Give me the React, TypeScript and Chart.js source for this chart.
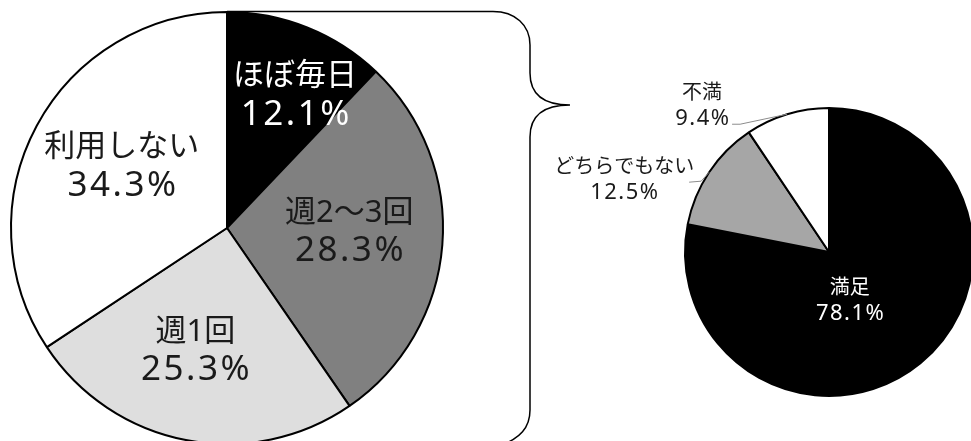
import React, { useEffect, useRef } from "react";
import { Chart, registerables } from "chart.js";

Chart.register(...registerables);

// ---- data ----
const usageLabels = ["ほぼ毎日", "週2～3回", "週1回", "利用しない"];
const usageValues = [12.1, 28.3, 25.3, 34.3];
const satisfactionLabels = ["満足", "どちらでもない", "不満"];
const satisfactionValues = [78.1, 12.5, 9.4];

// ---- styles ----
const usageColors = ["#000000", "#808080", "#dedede", "#ffffff"];
const usageTextColors = ["#ffffff", "#1a1a1a", "#1a1a1a", "#1a1a1a"];
const satColors = ["#000000", "#a6a6a6", "#ffffff"];
const satTextColors = ["#ffffff", "#1a1a1a", "#1a1a1a"];

const FONT = "'Noto Sans', 'Noto Sans CJK JP', sans-serif";
const CW = 1000;
const CH = 460;

type LabelStyle = {
  inside: boolean;
  frac?: number;
  nudge: [number, number];
  leader?: [number, number][];
};

const usageLabelStyles: LabelStyle[] = [
  { inside: true, frac: 0.6, nudge: [20, -12] },
  { inside: true, frac: 0.6, nudge: [-7, -6] },
  { inside: true, frac: 0.6, nudge: [-7, -4] },
  { inside: true, frac: 0.6, nudge: [9, 0] },
];
const satLabelStyles: LabelStyle[] = [
  { inside: true, frac: 0.6, nudge: [-34, -18] },
  { inside: false, nudge: [-85, 8], leader: [[-8, 9], [-20, 10]] },
  { inside: false, nudge: [-85, -8], leader: [[-47, 10], [-55, 10]] },
];

function makeLabelPlugin(
  id: string,
  labels: string[],
  styles: LabelStyle[],
  textColors: string[],
  nameSize: number,
  pctSize: number,
  pctSpacing: number,
  lineGap: number,
  brace: boolean
) {
  return {
    id,
    afterDatasetsDraw(chart: any) {
      const ctx: any = chart.ctx;
      const meta = chart.getDatasetMeta(0);
      const data = chart.data.datasets[0].data as number[];
      ctx.save();
      meta.data.forEach((el: any, i: number) => {
        const p = el.getProps(["x", "y", "startAngle", "endAngle", "outerRadius"], true);
        const mid = (p.startAngle + p.endAngle) / 2;
        const st = styles[i];
        let cx: number, cy: number;
        if (st.inside) {
          const r = p.outerRadius * (st.frac ?? 0.6);
          cx = p.x + Math.cos(mid) * r + st.nudge[0];
          cy = p.y + Math.sin(mid) * r + st.nudge[1];
        } else {
          const ex = p.x + Math.cos(mid) * p.outerRadius;
          const ey = p.y + Math.sin(mid) * p.outerRadius;
          cx = ex + st.nudge[0];
          cy = ey + st.nudge[1];
          if (st.leader) {
            ctx.strokeStyle = "#8c8c8c";
            ctx.lineWidth = 1;
            ctx.beginPath();
            ctx.moveTo(ex, ey);
            st.leader.forEach(([dx, dy]) => ctx.lineTo(ex + dx, ey + dy));
            ctx.stroke();
          }
        }
        ctx.fillStyle = textColors[i];
        ctx.textAlign = "center";
        ctx.textBaseline = "middle";
        ctx.letterSpacing = "0px";
        ctx.font = `${nameSize}px ${FONT}`;
        ctx.fillText(labels[i], cx, cy - lineGap / 2);
        ctx.font = `${pctSize}px ${FONT}`;
        ctx.letterSpacing = `${pctSpacing}px`;
        ctx.fillText(data[i].toFixed(1) + "%", cx + pctSpacing / 2, cy + lineGap / 2);
        ctx.letterSpacing = "0px";
      });
      if (brace && meta.data.length) {
        const p = meta.data[0].getProps(["x", "y", "outerRadius"], true);
        const topY = p.y - p.outerRadius - 0.5;
        ctx.strokeStyle = "#000";
        ctx.lineWidth = 1.5;
        ctx.beginPath();
        ctx.moveTo(p.x, topY);
        ctx.lineTo(493, topY);
        ctx.bezierCurveTo(515, topY, 530, 25, 530, 45);
        ctx.lineTo(530, 73);
        ctx.bezierCurveTo(530, 95, 545, 105, 570, 105);
        ctx.moveTo(570, 105);
        ctx.bezierCurveTo(545, 105, 530, 115, 530, 137);
        ctx.lineTo(530, 410);
        ctx.bezierCurveTo(530, 428, 520, 438, 500, 446);
        ctx.stroke();
      }
      ctx.restore();
    },
  };
}

function PieCanvas(props: {
  labels: string[];
  values: number[];
  colors: string[];
  padding: { left: number; top: number; right: number; bottom: number };
  plugin: any;
}) {
  const ref = useRef<HTMLCanvasElement | null>(null);
  useEffect(() => {
    if (!ref.current) return;
    const chart = new Chart(ref.current, {
      type: "pie",
      data: {
        labels: props.labels,
        datasets: [
          {
            data: props.values,
            backgroundColor: props.colors,
            borderColor: "#000000",
            borderWidth: 2,
          },
        ],
      },
      options: {
        responsive: false,
        animation: false,
        devicePixelRatio: 1,
        layout: { padding: props.padding },
        plugins: {
          legend: { display: false },
          tooltip: { enabled: false },
        },
        events: [],
      },
      plugins: [props.plugin],
    });
    return () => chart.destroy();
  }, []);
  return (
    <canvas
      ref={ref}
      width={CW}
      height={CH}
      style={{ position: "absolute", left: 0, top: 0, width: CW, height: CH }}
    />
  );
}

const leftPlugin = makeLabelPlugin("usageLabels", usageLabels, usageLabelStyles, usageTextColors, 31, 35, 2.5, 38, true);
const rightPlugin = makeLabelPlugin("satLabels", satisfactionLabels, satLabelStyles, satTextColors, 20, 22, 1.5, 25, false);

export default function App() {
  return (
    <div
      style={{
        position: "fixed",
        left: 0,
        top: 0,
        width: 971,
        height: 441,
        overflow: "hidden",
        background: "#ffffff",
      }}
    >
      <PieCanvas
        labels={usageLabels}
        values={usageValues}
        colors={usageColors}
        padding={{ left: 10, top: 11, right: CW - 444, bottom: CH - 445 }}
        plugin={leftPlugin}
      />
      <PieCanvas
        labels={satisfactionLabels}
        values={satisfactionValues}
        colors={satColors}
        padding={{ left: 684, top: 107, right: CW - 974, bottom: CH - 397 }}
        plugin={rightPlugin}
      />
    </div>
  );
}
